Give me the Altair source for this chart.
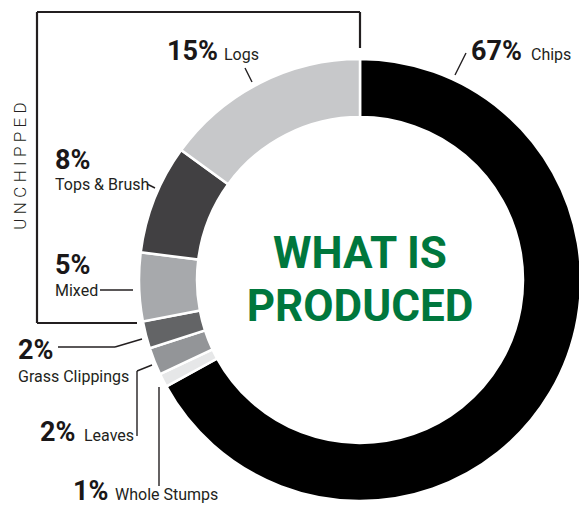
import altair as alt
import pandas as pd

# ---- data ----
categories = ["Chips", "Whole Stumps", "Leaves", "Grass Clippings", "Mixed", "Tops & Brush", "Logs"]
percents = [67, 1, 2, 2, 5, 8, 15]
colors = ["#000000", "#e6e7e8", "#939598", "#636466", "#a7a9ac", "#414042", "#c7c8ca"]
title_lines = ["WHAT IS", "PRODUCED"]
group_label = "\u2005".join("UNCHIPPED")

# ---- layout (annotation anchors, pixels) ----
W, H = 579, 507
CX, CY = 360, 280
R_OUT, R_IN = 221, 163
pct_pos = {  # baseline-left of the bold percentage
    "Chips": (471, 60), "Logs": (167, 60), "Tops & Brush": (55, 169), "Mixed": (55, 274),
    "Grass Clippings": (18, 359), "Leaves": (40, 441), "Whole Stumps": (73, 500),
}
name_pos = {
    "Chips": (531, 60), "Logs": (224, 60), "Tops & Brush": (55, 190), "Mixed": (55, 296),
    "Grass Clippings": (18, 382), "Leaves": (84, 441), "Whole Stumps": (115, 500),
}
leaders = [  # x, y, x2, y2
    (455, 75, 466, 53), (245, 68, 252, 82), (147, 184, 155, 188), (100, 290, 133, 290),
    (58, 347, 115, 347), (115, 347, 142, 339), (152, 365, 137, 371), (137, 371, 137, 436),
    (159, 387, 159, 486),
]
bracket = [(37, 12, 360, 12), (360, 12, 360, 48), (37, 12, 37, 323), (37, 323, 137, 323)]

FONT = "Roboto, sans-serif"

df = pd.DataFrame({"category": categories, "percent": percents, "order": list(range(len(categories)))})
pct_df = pd.DataFrame({
    "text": [f"{p}%" for p in percents],
    "x": [pct_pos[c][0] for c in categories],
    "y": [pct_pos[c][1] for c in categories],
})
name_df = pd.DataFrame({
    "text": categories,
    "x": [name_pos[c][0] for c in categories],
    "y": [name_pos[c][1] for c in categories],
})
line_df = pd.DataFrame(leaders, columns=["x", "y", "x2", "y2"])
box_df = pd.DataFrame(bracket, columns=["x", "y", "x2", "y2"])

donut = alt.Chart(df).mark_arc(outerRadius=R_OUT, innerRadius=R_IN, stroke="white", strokeWidth=2.5).encode(
    theta=alt.Theta("percent:Q", stack=True),
    order=alt.Order("order:Q"),
    color=alt.Color("category:N", scale=alt.Scale(domain=categories, range=colors), legend=None),
    x=alt.value(CX),
    y=alt.value(CY),
)

pct_text = alt.Chart(pct_df).mark_text(
    align="left", baseline="alphabetic", font=FONT, fontWeight="bold", fontSize=27, color="#1a1718"
).encode(x=alt.X("x:Q", scale=None), y=alt.Y("y:Q", scale=None), text="text:N")

name_text = alt.Chart(name_df).mark_text(
    align="left", baseline="alphabetic", font=FONT, fontSize=16, color="#231f20"
).encode(x=alt.X("x:Q", scale=None), y=alt.Y("y:Q", scale=None), text="text:N")

lines = alt.Chart(line_df).mark_rule(color="#231f20", strokeWidth=1.4).encode(
    x=alt.X("x:Q", scale=None), y=alt.Y("y:Q", scale=None), x2="x2:Q", y2="y2:Q"
)
box_lines = alt.Chart(box_df).mark_rule(color="#231f20", strokeWidth=2.2).encode(
    x=alt.X("x:Q", scale=None), y=alt.Y("y:Q", scale=None), x2="x2:Q", y2="y2:Q"
)

title_df = pd.DataFrame({"text": title_lines, "y": [268, 321]})
title = alt.Chart(title_df).mark_text(
    align="center", baseline="alphabetic", font=FONT, fontWeight="bold", fontSize=44, color="#00773d"
).encode(x=alt.value(CX), y=alt.Y("y:Q", scale=None), text="text:N")

group_df = pd.DataFrame({"text": [group_label]})
group = alt.Chart(group_df).mark_text(
    align="center", baseline="middle", angle=270, font=FONT, fontWeight=300, fontSize=17, color="#231f20"
).encode(x=alt.value(21), y=alt.value(166), text="text:N")

chart = alt.layer(donut, lines, box_lines, pct_text, name_text, title, group).properties(
    width=W, height=H, padding=0, autosize="none"
).configure_view(stroke=None)

chart.save("out.html", embed_options={"renderer": "svg", "actions": False})
